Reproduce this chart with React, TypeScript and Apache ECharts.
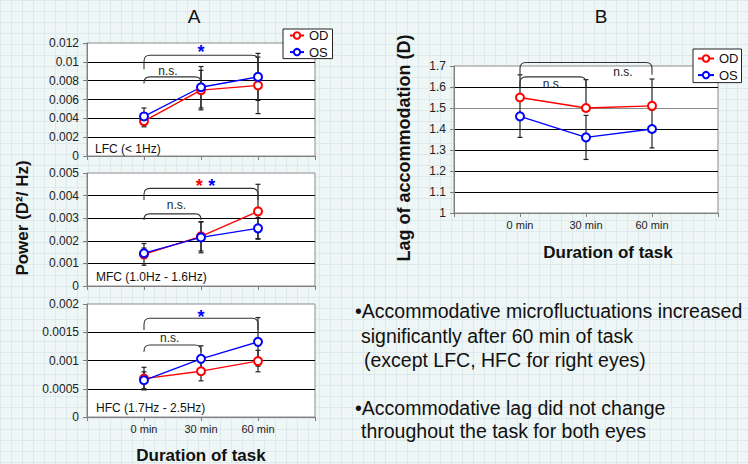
import React, { useEffect, useRef } from 'react';
import * as echarts from 'echarts';

// ---------- data ----------
const categories = ['', '0 min', '30 min', '60 min', ''];

// LFC power (D^2/Hz)
const lfcOD = [0.0037, 0.007, 0.0075];
const lfcOS = [0.0042, 0.0073, 0.0084];
const lfcODErr = [0.0006, 0.0021, 0.003];
const lfcOSErr = [0.0009, 0.0022, 0.0025];

// MFC power
const mfcOD = [0.0014, 0.0022, 0.0033];
const mfcOS = [0.00145, 0.00215, 0.00255];
const mfcODErr = [0.00048, 0.00065, 0.0012];
const mfcOSErr = [0.00023, 0.00068, 0.00048];

// HFC power
const hfcOD = [0.00068, 0.00081, 0.00099];
const hfcOS = [0.00065, 0.00103, 0.00133];
const hfcODErr = [0.0002, 0.00017, 0.00019];
const hfcOSErr = [0.00015, 0.00023, 0.00043];

// Lag of accommodation (D)
const lagOD = [1.55, 1.5, 1.51];
const lagOS = [1.46, 1.36, 1.4];
const lagODErrPlus = [0.108, 0.135, 0.128];
const lagODErrMinus = [0, 0, 0];
const lagOSErr = [0.1, 0.105, 0.09];

// significance brackets: [fromCategory, toCategory, topValue, endValue]
const lfcBrackets = [[1, 2, 0.0084, 0.0077], [1, 3, 0.0107, 0.0092]];
const mfcBrackets = [[1, 2, 0.00319, 0.00292], [1, 3, 0.00432, 0.0038]];
const hfcBrackets = [[1, 2, 0.001274, 0.001156], [1, 3, 0.001747, 0.00154]];
const lagBrackets = [[1, 2, 1.648, 1.6], [1, 3, 1.717, 1.658]];

// significance marks: [categoryPosition, value, text, eye]
const lfcMarks: [number, number, string, string][] = [[1.42, 0.009, 'n.s.', ''], [2, 0.01144, '*', 'OS']];
const mfcMarks: [number, number, string, string][] = [[1.57, 0.00358, 'n.s.', ''], [1.97, 0.00461, '*', 'OD'], [2.19, 0.00461, '*', 'OS']];
const hfcMarks: [number, number, string, string][] = [[1.45, 0.00139, 'n.s.', ''], [2, 0.001835, '*', 'OS']];
const lagMarks: [number, number, string, string][] = [[1.49, 1.614, 'n.s.', ''], [2.56, 1.671, 'n.s.', '']];

const bulletLines = [
  '•Accommodative microfluctuations increased',
  'significantly after 60 min of task',
  '(except LFC, HFC for right eyes)',
  '•Accommodative lag did not change',
  'throughout the task for both eyes',
];

// ---------- styling ----------
const RED = '#ff0000';
const BLUE = '#0000ff';
const FONT = '"Liberation Sans", Arial, Helvetica, sans-serif';
const GRAYAX = '#7f7f7f';

function coordAt(api: any, pos: number, val: number) {
  const i0 = Math.floor(pos);
  const f = pos - i0;
  const a = api.coord([i0, val]);
  if (f === 0) return a;
  const b = api.coord([i0 + 1, val]);
  return [a[0] + (b[0] - a[0]) * f, a[1]];
}

export default function App() {
  const ref = useRef<HTMLDivElement>(null);

  useEffect(() => {
    if (!ref.current) return;
    const chart = echarts.init(ref.current, undefined, { renderer: 'svg' });

    const panels = [
      {
        grid: { left: 87, top: 43, width: 228, height: 113 },
        min: 0, max: 0.012, interval: 0.002,
        od: lfcOD, os: lfcOS, odPlus: lfcODErr, odMinus: lfcODErr, osPlus: lfcOSErr, osMinus: lfcOSErr,
        brackets: lfcBrackets, marks: lfcMarks, showX: false, split: ['#000'],
      },
      {
        grid: { left: 87, top: 173, width: 228, height: 113 },
        min: 0, max: 0.005, interval: 0.001,
        od: mfcOD, os: mfcOS, odPlus: mfcODErr, odMinus: mfcODErr, osPlus: mfcOSErr, osMinus: mfcOSErr,
        brackets: mfcBrackets, marks: mfcMarks, showX: false, split: ['#000'],
      },
      {
        grid: { left: 87, top: 304, width: 228, height: 113 },
        min: 0, max: 0.002, interval: 0.0005,
        od: hfcOD, os: hfcOS, odPlus: hfcODErr, odMinus: hfcODErr, osPlus: hfcOSErr, osMinus: hfcOSErr,
        brackets: hfcBrackets, marks: hfcMarks, showX: true, split: ['#000'],
      },
      {
        grid: { left: 454, top: 66, width: 264, height: 147 },
        min: 1, max: 1.7, interval: 0.1,
        od: lagOD, os: lagOS, odPlus: lagODErrPlus, odMinus: lagODErrMinus, osPlus: lagOSErr, osMinus: lagOSErr,
        brackets: lagBrackets, marks: lagMarks, showX: true,
        split: ['#000', '#000', '#000', '#000', '#8a8a8a', '#000'],
      },
    ];

    const grids: any[] = [];
    const xAxes: any[] = [];
    const yAxes: any[] = [];
    const series: any[] = [];

    panels.forEach((p, idx) => {
      grids.push({
        ...p.grid,
        show: true,
        backgroundColor: '#ffffff',
        borderColor: '#8c8c8c',
        borderWidth: 1,
        containLabel: false,
      });
      xAxes.push({
        gridIndex: idx,
        type: 'category',
        data: categories,
        boundaryGap: false,
        axisLine: { show: true, lineStyle: { color: GRAYAX, width: 1 } },
        axisTick: { show: true, interval: 0, length: 4, lineStyle: { color: GRAYAX } },
        axisLabel: { show: p.showX, interval: 0, fontSize: 11, color: '#222', margin: 6, fontFamily: FONT },
        splitLine: { show: false },
      });
      yAxes.push({
        gridIndex: idx,
        type: 'value',
        min: p.min,
        max: p.max,
        interval: p.interval,
        axisLine: { show: true, lineStyle: { color: GRAYAX, width: 1 } },
        axisTick: { show: true, length: 4, lineStyle: { color: GRAYAX } },
        axisLabel: { fontSize: 12, color: '#222', margin: 8, fontFamily: FONT },
        splitLine: {
          show: true,
          showMinLine: false,
          showMaxLine: false,
          lineStyle: { color: p.split, width: 1 },
        },
      });

      const errSeries = (vals: number[], plus: number[], minus: number[]) => ({
        type: 'custom',
        xAxisIndex: idx,
        yAxisIndex: idx,
        z: 1,
        silent: true,
        clip: false,
        data: vals.map((v, i) => [i + 1, v - minus[i], v + plus[i]]),
        encode: { x: 0, y: [1, 2] },
        renderItem: (params: any, api: any) => {
          const i = params.dataIndex;
          const c = api.value(0);
          const lo = api.coord([c, api.value(1)]);
          const hi = api.coord([c, api.value(2)]);
          const style = { stroke: '#222', lineWidth: 1.2 };
          const children: any[] = [
            { type: 'line', shape: { x1: lo[0], y1: lo[1], x2: hi[0], y2: hi[1] }, style },
            { type: 'line', shape: { x1: hi[0] - 2.5, y1: hi[1], x2: hi[0] + 2.5, y2: hi[1] }, style },
          ];
          if (minus[i] > 0) {
            children.push({ type: 'line', shape: { x1: lo[0] - 2.5, y1: lo[1], x2: lo[0] + 2.5, y2: lo[1] }, style });
          }
          return { type: 'group', children };
        },
      });

      series.push(errSeries(p.od, p.odPlus, p.odMinus));
      series.push(errSeries(p.os, p.osPlus, p.osMinus));

      const lineSeries = (name: string, vals: number[], color: string) => ({
        type: 'line',
        name,
        xAxisIndex: idx,
        yAxisIndex: idx,
        z: 3,
        data: [null, ...vals, null],
        symbol: 'emptyCircle',
        symbolSize: 8,
        showAllSymbol: true,
        lineStyle: { color, width: 1.3 },
        itemStyle: { color, borderColor: color, borderWidth: 1.3 },
        silent: true,
      });
      series.push(lineSeries('OD', p.od, RED));
      series.push(lineSeries('OS', p.os, BLUE));

      const brackets = p.brackets;
      series.push({
        type: 'custom',
        xAxisIndex: idx,
        yAxisIndex: idx,
        z: 4,
        silent: true,
        clip: false,
        data: brackets.map((b) => [b[0], b[2]]),
        renderItem: (params: any, api: any) => {
          const b = brackets[params.dataIndex];
          const top1 = api.coord([b[0], b[2]]);
          const top2 = api.coord([b[1], b[2]]);
          const end1 = api.coord([b[0], b[3]]);
          const x1 = top1[0];
          const x2 = top2[0];
          const yt = top1[1];
          const ye = end1[1];
          const r = Math.min(6, (ye - yt) * 0.9);
          const d = `M${x1} ${ye} L${x1} ${yt + r} Q${x1} ${yt} ${x1 + r} ${yt} L${x2 - r} ${yt} Q${x2} ${yt} ${x2} ${yt + r} L${x2} ${ye}`;
          return {
            type: 'path',
            shape: { pathData: d },
            style: { stroke: '#333', lineWidth: 1.1, fill: 'none' },
          };
        },
      });

      const marks = p.marks;
      series.push({
        type: 'custom',
        xAxisIndex: idx,
        yAxisIndex: idx,
        z: 5,
        silent: true,
        clip: false,
        data: marks.map((m) => [Math.floor(m[0]), m[1]]),
        renderItem: (params: any, api: any) => {
          const m = marks[params.dataIndex];
          const pt = coordAt(api, m[0], m[1]);
          const isStar = m[2] === '*';
          const color = m[3] === 'OD' ? RED : m[3] === 'OS' ? BLUE : '#222';
          return {
            type: 'text',
            x: pt[0],
            y: pt[1] + (isStar ? 4 : 0),
            style: {
              text: m[2],
              fill: color,
              fontSize: isStar ? 18 : 12,
              fontWeight: isStar ? 'bold' : 'normal',
              fontFamily: FONT,
              align: 'center',
              verticalAlign: 'middle',
              textAlign: 'center',
              textVerticalAlign: 'middle',
            },
          };
        },
      });
    });

    const legendBase = {
      orient: 'vertical',
      selectedMode: false,
      backgroundColor: '#ffffff',
      borderColor: '#222',
      borderWidth: 1,
      borderRadius: 0,
      itemHeight: 8,
      itemGap: 3.6,
      textStyle: { fontSize: 13, color: '#111', fontFamily: FONT, lineHeight: 13 },
      data: ['OD', 'OS'],
    };

    const text = (t: string, x: number, y: number, size: number, extra: any = {}) => ({
      type: 'text',
      x,
      y,
      silent: true,
      ...extra,
      style: {
        text: t,
        fill: '#111',
        fontSize: size,
        fontFamily: FONT,
        fontWeight: extra.bold ? 'bold' : 'normal',
        align: extra.align || 'center',
        textAlign: extra.align || 'center',
        verticalAlign: 'middle',
        textVerticalAlign: 'middle',
      },
    });

    const graphics: any[] = [
      text('A', 194, 16, 19),
      text('B', 601, 16, 19),
      text('Power (D²/ Hz)', 22, 218, 17, { bold: true, rotation: Math.PI / 2 }),
      text('Lag of accommodation (D)', 404, 148, 18, { bold: true, rotation: Math.PI / 2 }),
      text('Duration of task', 201, 455, 17, { bold: true }),
      text('Duration of task', 608, 252, 17, { bold: true }),
      text('LFC (< 1Hz)', 95, 149, 12, { align: 'left' }),
      text('MFC (1.0Hz - 1.6Hz)', 96, 277, 12, { align: 'left' }),
      text('HFC (1.7Hz - 2.5Hz)', 96, 408, 12, { align: 'left' }),
      text(bulletLines[0], 355, 311, 19.5, { align: 'left' }),
      text(bulletLines[1], 361, 336, 19.5, { align: 'left' }),
      text(bulletLines[2], 364, 360, 19.5, { align: 'left' }),
      text(bulletLines[3], 355, 408, 19.5, { align: 'left' }),
      text(bulletLines[4], 361, 431, 19.5, { align: 'left' }),
    ];

    chart.setOption({
      animation: false,
      backgroundColor: 'transparent',
      textStyle: { fontFamily: FONT },
      grid: grids,
      xAxis: xAxes,
      yAxis: yAxes,
      legend: [
        { ...legendBase, left: 283, top: 29, itemWidth: 14, padding: [0, 4, 0, 6] },
        { ...legendBase, left: 693, top: 49, itemWidth: 16, padding: [3, 3, 1, 4] },
      ],
      graphic: graphics,
      series,
    });

    return () => chart.dispose();
  }, []);

  return (
    <div
      style={{
        position: 'fixed',
        left: 0,
        top: 0,
        width: 748,
        height: 464,
        backgroundColor: '#eef6f6',
        backgroundImage:
          'linear-gradient(#dde9ec 1px, transparent 1px), linear-gradient(90deg, #dde9ec 1px, transparent 1px)',
        backgroundSize: '11px 11px',
      }}
    >
      <div ref={ref} style={{ width: 748, height: 464 }} />
    </div>
  );
}
